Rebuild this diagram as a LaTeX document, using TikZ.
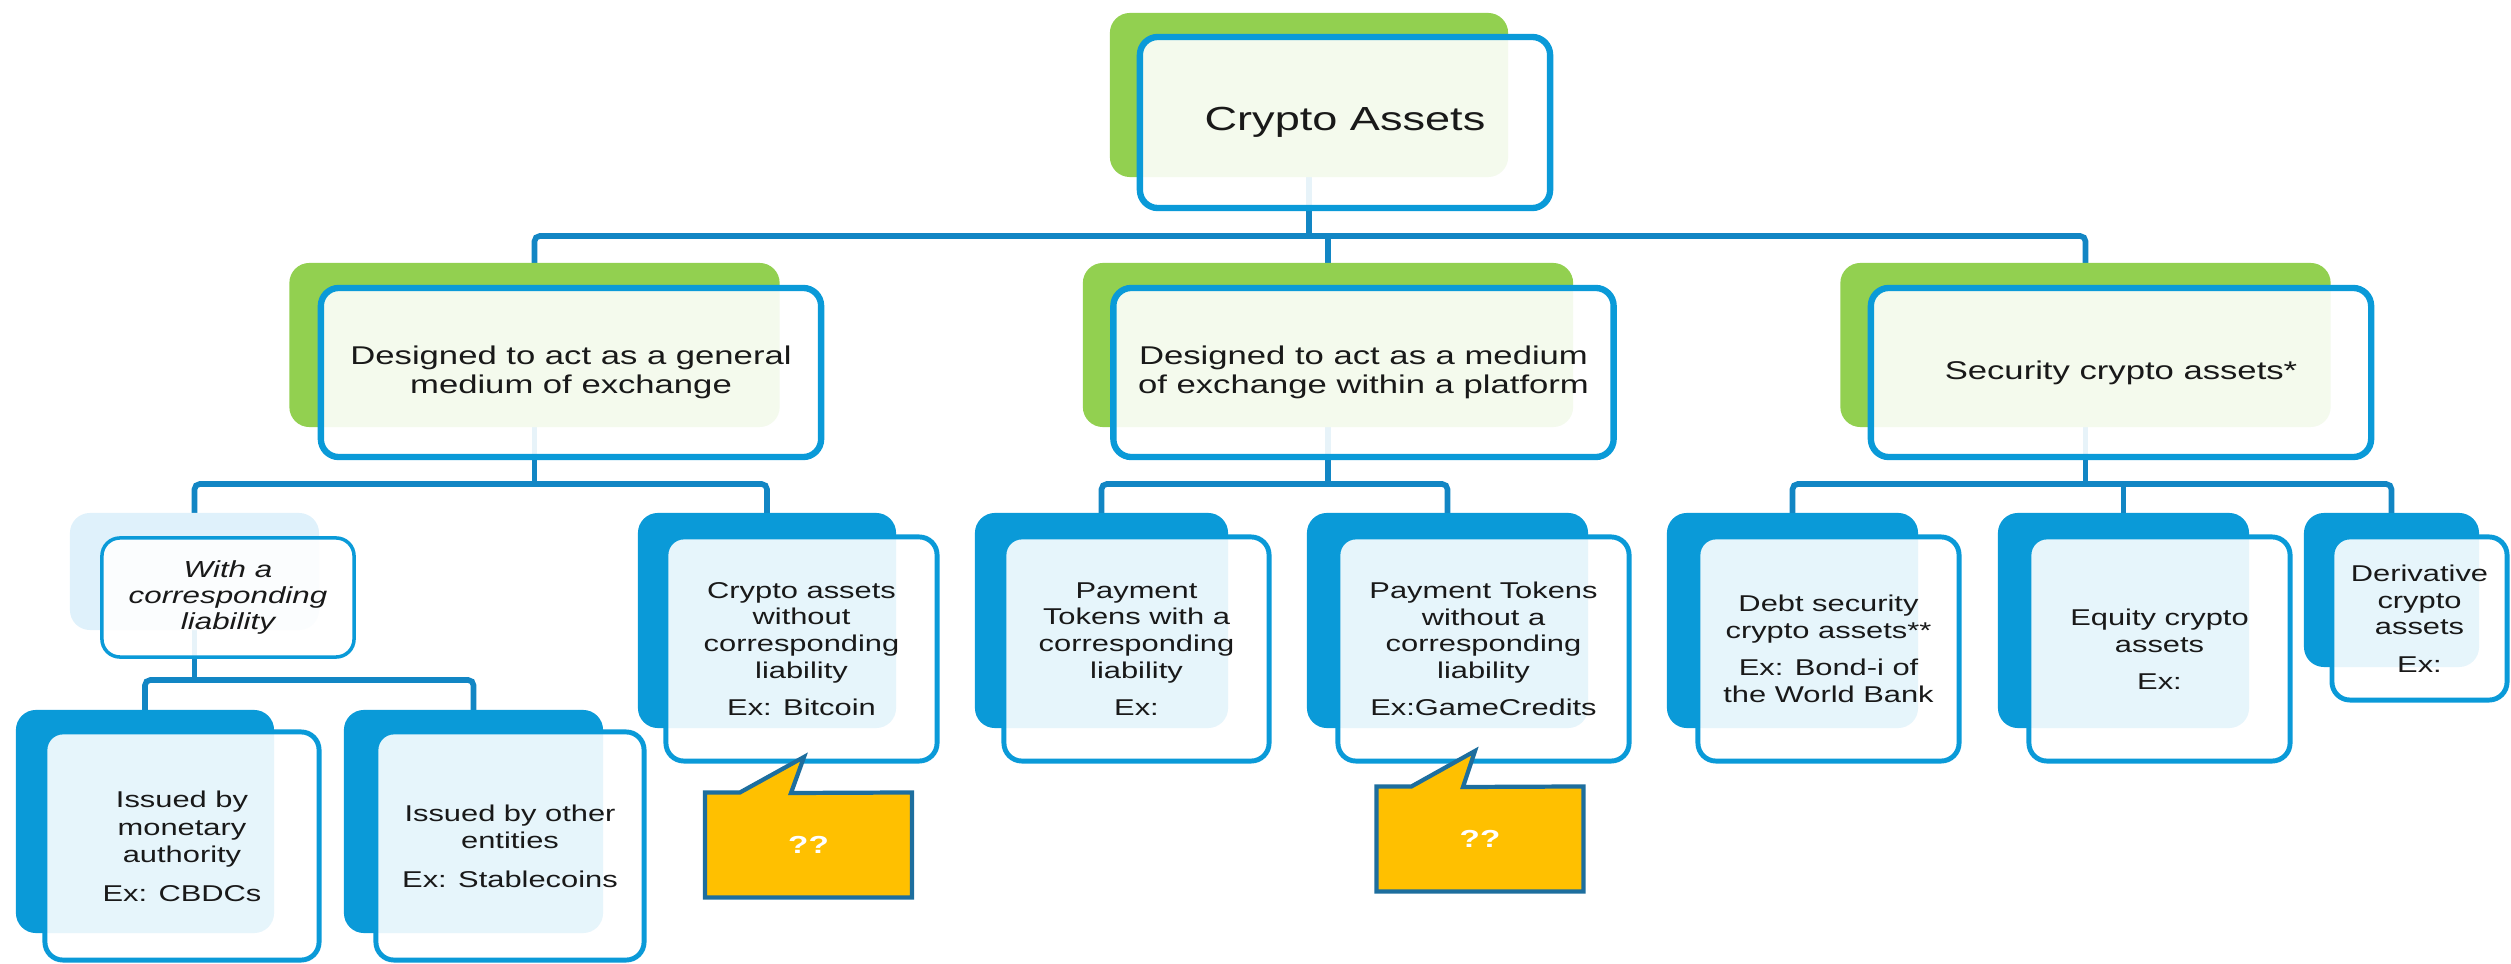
\documentclass[tikz,border=0pt]{standalone}
\usepackage{fontspec}
\setmainfont{Liberation Sans}[FakeStretch=1.35]
\usetikzlibrary{backgrounds}
\definecolor{leafgreen}{HTML}{92D050}
\definecolor{boxblue}{HTML}{0A9AD8}
\definecolor{paleblue}{HTML}{DFF1FB}
\definecolor{linkblue}{HTML}{1286C4}
\definecolor{noteyellow}{HTML}{FFC000}
\definecolor{noteedge}{HTML}{1D6E9E}
\tikzset{
  bk/.style={rectangle, rounded corners=0.2cm, inner sep=0pt, outer sep=0pt},
  greenbk/.style={bk, fill=leafgreen, minimum height=1.64cm},
  bluebk/.style={bk, fill=boxblue, minimum height=2.15cm},
  fr/.style={rectangle, rounded corners=0.18cm, inner sep=0pt, outer sep=0pt, draw=boxblue,
    fill=white, fill opacity=0.9, text opacity=1, align=center, text=black!90},
  head/.style={fr, line width=1.8pt, minimum width=4.10cm, minimum height=1.71cm,
    font=\fontsize{9.5pt}{11pt}\selectfont},
  cat/.style={fr, line width=1.8pt, minimum width=5.00cm, minimum height=1.69cm,
    font=\fontsize{7.3pt}{8.1pt}\selectfont},
  leaf/.style={fr, line width=1.4pt, minimum height=2.24cm,
    font=\fontsize{6.5pt}{7.6pt}\selectfont},
  issue/.style={fr, line width=1.4pt, minimum height=2.28cm,
    font=\fontsize{6.5pt}{7.9pt}\selectfont},
  link/.style={draw=linkblue, line width=1.6pt, rounded corners=1.5pt},
  note/.style={rectangle, inner sep=0pt, outer sep=0pt, minimum width=2.07cm, minimum height=1.05cm},
  noteline/.style={draw=noteedge, fill=noteyellow, line width=1.2pt, line join=miter},
  notetext/.style={text=white, font=\fontsize{7pt}{8pt}\selectfont\bfseries}
}
\begin{document}
\begin{tikzpicture}[x=0.01cm, y=-0.01cm]
\useasboundingbox (0,0) rectangle (2511,964);
\coordinate (bus0) at (0,236);
\coordinate (bus1) at (0,484);
\coordinate (bus2) at (0,680);

\node (cabk) at (1309,95) [greenbk, minimum width=3.98cm] {};
\node (ca) at (1345,122.5) [head] {Crypto Assets};

\node (genbk) at (534.5,345) [greenbk, minimum width=4.90cm] {};
\node (gen) at (571,372.5) [cat] {Designed to act as a general\\medium of exchange};
\node (platbk) at (1328,345) [greenbk, minimum width=4.90cm] {};
\node (plat) at (1363.5,372.5) [cat] {Designed to act as a medium\\of exchange within a platform};
\node (secbk) at (2085.5,345) [greenbk, minimum width=4.90cm] {};
\node (sec) at (2121,372.5) [cat] {Security crypto assets*};

\node (withbk) at (194.5,571.5) [bk, fill=paleblue, minimum width=2.49cm, minimum height=1.17cm] {};
\node (with) at (228,597.5) [fr, line width=1pt, minimum width=2.52cm, minimum height=1.19cm,
  font=\fontsize{6.6pt}{7.4pt}\selectfont\itshape] {With a\\corresponding\\liability};
\node (nobk) at (767,620.5) [bluebk, minimum width=2.58cm] {};
\node (no) at (801.5,649) [leaf, minimum width=2.71cm] {Crypto assets\\without\\corresponding\\liability\\[3pt]Ex: Bitcoin};
\node (ptwbk) at (1101.5,620.5) [bluebk, minimum width=2.53cm] {};
\node (ptw) at (1136.5,649) [leaf, minimum width=2.65cm] {Payment\\Tokens with a\\corresponding\\liability\\[3pt]Ex:};
\node (ptwobk) at (1447.5,620.5) [bluebk, minimum width=2.81cm] {};
\node (ptwo) at (1483.5,649) [leaf, minimum width=2.91cm] {Payment Tokens\\without a\\corresponding\\liability\\[3pt]Ex:GameCredits};
\node (debtbk) at (1792.5,620.5) [bluebk, minimum width=2.51cm] {};
\node (debt) at (1828.5,649) [leaf, minimum width=2.61cm] {Debt security\\crypto assets**\\[3pt]Ex: Bond-i of\\the World Bank};
\node (eqbk) at (2123.5,620.5) [bluebk, minimum width=2.51cm] {};
\node (eq) at (2159.5,649) [leaf, minimum width=2.61cm] {Equity crypto\\assets\\[3pt]Ex:};
\node (derbk) at (2391.5,590) [bluebk, minimum width=1.75cm, minimum height=1.54cm] {};
\node (der) at (2419.5,618.5) [leaf, minimum width=1.75cm, minimum height=1.63cm] {Derivative\\crypto\\assets\\[3pt]Ex:};

\node (monbk) at (145,821.5) [bluebk, minimum width=2.58cm, minimum height=2.23cm] {};
\node (mon) at (182,846) [issue, minimum width=2.74cm] {Issued by\\monetary\\authority\\[3pt]Ex: CBDCs};
\node (othbk) at (473.5,821.5) [bluebk, minimum width=2.59cm, minimum height=2.23cm] {};
\node (oth) at (510,846) [issue, minimum width=2.68cm] {Issued by other\\entities\\[3pt]Ex: Stablecoins};

\begin{scope}[on background layer]
\draw[link] (cabk.center) to (cabk |- bus0);
\draw[link] (genbk.center) to (genbk |- bus0) to (secbk |- bus0) to (secbk.center);
\draw[link] (platbk.center) to (platbk |- bus0);
\draw[link] (genbk.center) to (genbk |- bus1);
\draw[link] (withbk.center) to (withbk |- bus1) to (nobk |- bus1) to (nobk.center);
\draw[link] (platbk.center) to (platbk |- bus1);
\draw[link] (ptwbk.center) to (ptwbk |- bus1) to (ptwobk |- bus1) to (ptwobk.center);
\draw[link] (secbk.center) to (secbk |- bus1);
\draw[link] (debtbk.center) to (debtbk |- bus1) to (derbk |- bus1) to (derbk.center);
\draw[link] (eqbk.center) to (eqbk |- bus1);
\draw[link] (withbk.center) to (withbk |- bus2);
\draw[link] (monbk.center) to (monbk |- bus2) to (othbk |- bus2) to (othbk.center);
\end{scope}

\node (q1) at (808.5,845) [note] {};
\coordinate (q1tip) at (804,757);
\filldraw[noteline] (q1.south west) -- (q1.north west) -- ++(35,0) -- (q1tip) -- ++(-13,36) -- (q1.north east) -- (q1.south east) -- cycle;
\node (q1txt) at (q1) [notetext] {??};
\node (q2) at (1480,839) [note] {};
\coordinate (q2tip) at (1475,751);
\filldraw[noteline] (q2.south west) -- (q2.north west) -- ++(35,0) -- (q2tip) -- ++(-12,36) -- (q2.north east) -- (q2.south east) -- cycle;
\node (q2txt) at (q2) [notetext] {??};
\end{tikzpicture}
\end{document}
